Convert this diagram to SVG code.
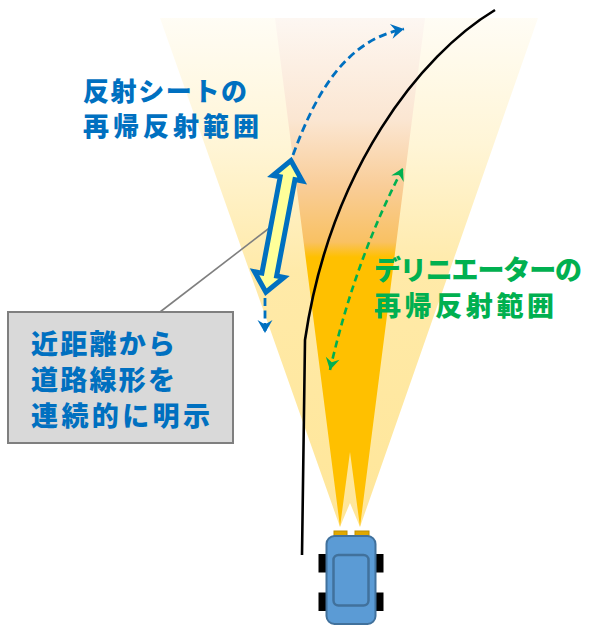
<svg xmlns="http://www.w3.org/2000/svg" width="591" height="626" viewBox="0 0 591 626">
  <style>
    .label { font-family: "Noto Sans CJK JP", "Noto Sans", sans-serif; font-weight: 900; }
    .blue { fill: #0070C0; }
    .green { fill: #00B050; }
    .dash-blue { fill: none; stroke: #0070C0; stroke-width: 2.8; stroke-dasharray: 8 4.5; }
    .dash-green { fill: none; stroke: #00B050; stroke-width: 2.6; stroke-dasharray: 7 4.5; }
  </style>
  <defs>
    <linearGradient id="paleBeam" gradientUnits="userSpaceOnUse" x1="0" y1="18" x2="0" y2="527">
      <stop offset="0" stop-color="#FFE699" stop-opacity="0.1"/>
      <stop offset="0.25" stop-color="#FFE699" stop-opacity="0.4"/>
      <stop offset="0.5" stop-color="#FFE699" stop-opacity="0.85"/>
      <stop offset="1" stop-color="#FFE699" stop-opacity="1"/>
    </linearGradient>
    <linearGradient id="brightBeam" gradientUnits="userSpaceOnUse" x1="0" y1="18" x2="0" y2="527">
      <stop offset="0" stop-color="#FDF7F2"/>
      <stop offset="0.2" stop-color="#FBE6D2"/>
      <stop offset="0.33" stop-color="#F9CD98"/>
      <stop offset="0.44" stop-color="#F9C163"/>
      <stop offset="0.47" stop-color="#FFC000"/>
      <stop offset="1" stop-color="#FFC000"/>
    </linearGradient>
    <marker id="headBlue" markerUnits="userSpaceOnUse" markerWidth="20" markerHeight="20" viewBox="-14 -10 16 20" refX="0" refY="0" orient="auto">
      <path d="M0,0 L-13,-7.5 L-8.5,0 L-13,7.5 Z" fill="#0070C0"/>
    </marker>
    <marker id="headGreen" markerUnits="userSpaceOnUse" markerWidth="20" markerHeight="20" viewBox="-14 -10 16 20" refX="0" refY="0" orient="auto-start-reverse">
      <path d="M0,0 L-12,-7 L-8,0 L-12,7 Z" fill="#00B050"/>
    </marker>
  </defs>

  <!-- headlight beams -->
  <g id="light-beams">
    <polygon points="160,18 538,18 360,527 350,503 340,527" fill="url(#paleBeam)"/>
    <polygon points="275,18 425,18 360,527 350,452 340,527" fill="url(#brightBeam)"/>
  </g>

  <!-- road edge -->
  <g id="road-edge">
    <path d="M495,10 C420,55 330,170 305,340 L302,555" fill="none" stroke="#000" stroke-width="2.6"/>
  </g>

  <g id="connectors">
    <!-- callout leader -->
    <line x1="160" y1="312" x2="272" y2="226" stroke="#7F7F7F" stroke-width="1.6"/>
    <!-- sheet reflection range -->
    <path class="dash-blue" d="M293,155 C315,95 345,40 404,29" marker-end="url(#headBlue)"/>
    <path class="dash-blue" d="M265,298 L265,333" marker-end="url(#headBlue)"/>
    <!-- delineator reflection range -->
    <path class="dash-green" d="M330,370 Q355,260 403,168" marker-start="url(#headGreen)" marker-end="url(#headGreen)"/>
  </g>

  <!-- reflective sheet span -->
  <g id="sheet-arrow" transform="translate(278.4,226.4) rotate(10.75)">
    <path d="M0,-67 L15,-49 L7.5,-49 L7.5,49 L15,49 L0,67 L-15,49 L-7.5,49 L-7.5,-49 L-15,-49 Z" fill="#FFFF99" stroke="#0070C0" stroke-width="5" stroke-linejoin="miter"/>
  </g>

  <g id="sheet-label" class="label blue" font-size="26">
    <text x="83" y="101" textLength="164" lengthAdjust="spacing">反射シートの</text>
    <text x="83" y="136" textLength="176" lengthAdjust="spacing">再帰反射範囲</text>
  </g>

  <g id="delineator-label" class="label green" font-size="27">
    <text x="374" y="280" textLength="208" lengthAdjust="spacing">デリニエーターの</text>
    <text x="374" y="316" textLength="180" lengthAdjust="spacing">再帰反射範囲</text>
  </g>

  <g id="callout">
    <rect x="8" y="312" width="225" height="131" fill="#D9D9D9" stroke="#7F7F7F" stroke-width="2"/>
    <g class="label blue" font-size="27">
      <text x="31" y="354" textLength="144" lengthAdjust="spacing">近距離から</text>
      <text x="31" y="390" textLength="144" lengthAdjust="spacing">道路線形を</text>
      <text x="31" y="426" textLength="179" lengthAdjust="spacing">連続的に明示</text>
    </g>
  </g>

  <!-- vehicle, top view -->
  <g id="car">
    <rect x="334" y="531" width="13" height="5" fill="#E0A800" stroke="#BF9000" stroke-width="1"/>
    <rect x="355" y="531" width="14" height="5" fill="#E0A800" stroke="#BF9000" stroke-width="1"/>
    <rect x="318.5" y="554" width="8" height="18.5" fill="#000"/>
    <rect x="318.5" y="592.5" width="8" height="18.5" fill="#000"/>
    <rect x="375" y="554" width="8.5" height="18.5" fill="#000"/>
    <rect x="375" y="592.5" width="8.5" height="18.5" fill="#000"/>
    <rect x="326.5" y="536" width="49" height="88" rx="8" fill="#5B9BD5" stroke="#41719C" stroke-width="2"/>
    <rect x="333.5" y="555" width="35" height="50.5" rx="5" fill="#5B9BD5" stroke="#41719C" stroke-width="2.5"/>
  </g>
</svg>
